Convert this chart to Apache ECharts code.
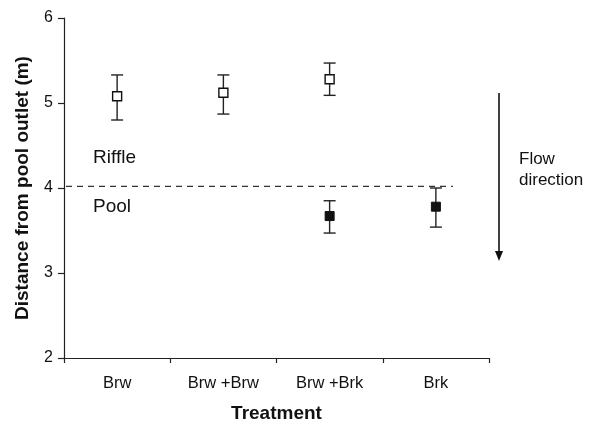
<!DOCTYPE html>
<html>
<head>
<meta charset="utf-8">
<script src="https://cdn.jsdelivr.net/npm/echarts@6/dist/echarts.min.js"></script>
<style>html,body{margin:0;padding:0;background:#fff}#c{width:593px;height:428px}</style>
</head>
<body>
<div id="c"></div>
<script>
var categories = ['Brw', 'Brw +Brw', 'Brw +Brk', 'Brk'];
var yTicks = [2, 3, 4, 5, 6];
// Open squares (riffle positions)
var openMean = [5.08, 5.12, 5.28, null];
var openLow  = [4.80, 4.87, 5.09, null];
var openHigh = [5.33, 5.33, 5.47, null];
// Filled squares (pool positions)
var filledMean = [null, null, 3.67, 3.78];
var filledLow  = [null, null, 3.47, 3.54];
var filledHigh = [null, null, 3.85, 4.00];
// Riffle/pool boundary
var boundary = 4.02;

var FONT = '"Liberation Sans", Arial, Helvetica, sans-serif';

function errData(low, high) {
  var out = [];
  for (var i = 0; i < low.length; i++) {
    if (low[i] != null) out.push([i, low[i], high[i]]);
  }
  return out;
}
var errAll = errData(openLow, openHigh).concat(errData(filledLow, filledHigh));

var chart = echarts.init(document.getElementById('c'));
chart.setOption({
  animation: false,
  backgroundColor: '#fff',
  grid: { left: 64, right: 104, top: 18, bottom: 67 },
  xAxis: {
    type: 'category',
    data: categories,
    boundaryGap: true,
    axisLine: { lineStyle: { color: '#222', width: 1.2 } },
    axisTick: { show: true, length: 5, inside: false, alignWithLabel: false, lineStyle: { color: '#222', width: 1.2 } },
    axisLabel: { color: '#111', fontSize: 16.5, fontFamily: FONT, margin: 17 },
    name: 'Treatment',
    nameLocation: 'middle',
    nameGap: 46,
    nameTextStyle: { color: '#111', fontSize: 19, fontWeight: 'bold', fontFamily: FONT }
  },
  yAxis: {
    type: 'value',
    min: yTicks[0],
    max: yTicks[yTicks.length - 1],
    interval: 1,
    axisLine: { show: true, lineStyle: { color: '#222', width: 1.2 } },
    axisTick: { show: true, length: 6, inside: false, lineStyle: { color: '#222', width: 1.2 } },
    splitLine: { show: false },
    axisLabel: { color: '#111', fontSize: 16, fontFamily: FONT, margin: 11 },
    name: 'Distance from pool outlet (m)',
    nameLocation: 'middle',
    nameGap: 32,
    nameTextStyle: { color: '#111', fontSize: 19, fontWeight: 'bold', fontFamily: FONT }
  },
  series: [
    {
      type: 'custom',
      z: 1,
      data: [[categories.length - 1, boundary]],
      renderItem: function (params, api) {
        var p = api.coord([api.value(0), api.value(1)]);
        var cs = params.coordSys;
        return {
          type: 'line',
          shape: { x1: cs.x + 2, y1: p[1], x2: p[0] + 17, y2: p[1] },
          style: { stroke: '#333', lineWidth: 1.3, lineDash: [6, 5] }
        };
      }
    },
    {
      type: 'custom',
      z: 2,
      data: errAll,
      renderItem: function (params, api) {
        var lo = api.coord([api.value(0), api.value(1)]);
        var hi = api.coord([api.value(0), api.value(2)]);
        var w = 6;
        var st = { stroke: '#222', lineWidth: 1.4 };
        return {
          type: 'group',
          children: [
            { type: 'line', shape: { x1: lo[0], y1: lo[1], x2: hi[0], y2: hi[1] }, style: st },
            { type: 'line', shape: { x1: lo[0] - w, y1: lo[1], x2: lo[0] + w, y2: lo[1] }, style: st },
            { type: 'line', shape: { x1: hi[0] - w, y1: hi[1], x2: hi[0] + w, y2: hi[1] }, style: st }
          ]
        };
      }
    },
    {
      type: 'scatter',
      z: 3,
      data: openMean,
      symbol: 'rect',
      symbolSize: 9,
      itemStyle: { color: '#fff', borderColor: '#111', borderWidth: 1.4, opacity: 1 }
    },
    {
      type: 'scatter',
      z: 3,
      data: filledMean,
      symbol: 'rect',
      symbolSize: 9,
      itemStyle: { color: '#111', borderColor: '#111', borderWidth: 1, opacity: 1 }
    }
  ],
  graphic: [
    { type: 'text', left: 93, top: 148, style: { text: 'Riffle', fontSize: 19, fontFamily: FONT, fill: '#111' } },
    { type: 'text', left: 93, top: 197, style: { text: 'Pool', fontSize: 19, fontFamily: FONT, fill: '#111' } },
    { type: 'text', left: 519, top: 149, style: { text: 'Flow\ndirection', fontSize: 17, lineHeight: 21, fontFamily: FONT, fill: '#111' } },
    { type: 'line', shape: { x1: 499, y1: 93, x2: 499, y2: 252 }, style: { stroke: '#111', lineWidth: 1.6 } },
    { type: 'polygon', shape: { points: [[495, 251], [503, 251], [499, 261]] }, style: { fill: '#111' } }
  ]
});
</script>
</body>
</html>
